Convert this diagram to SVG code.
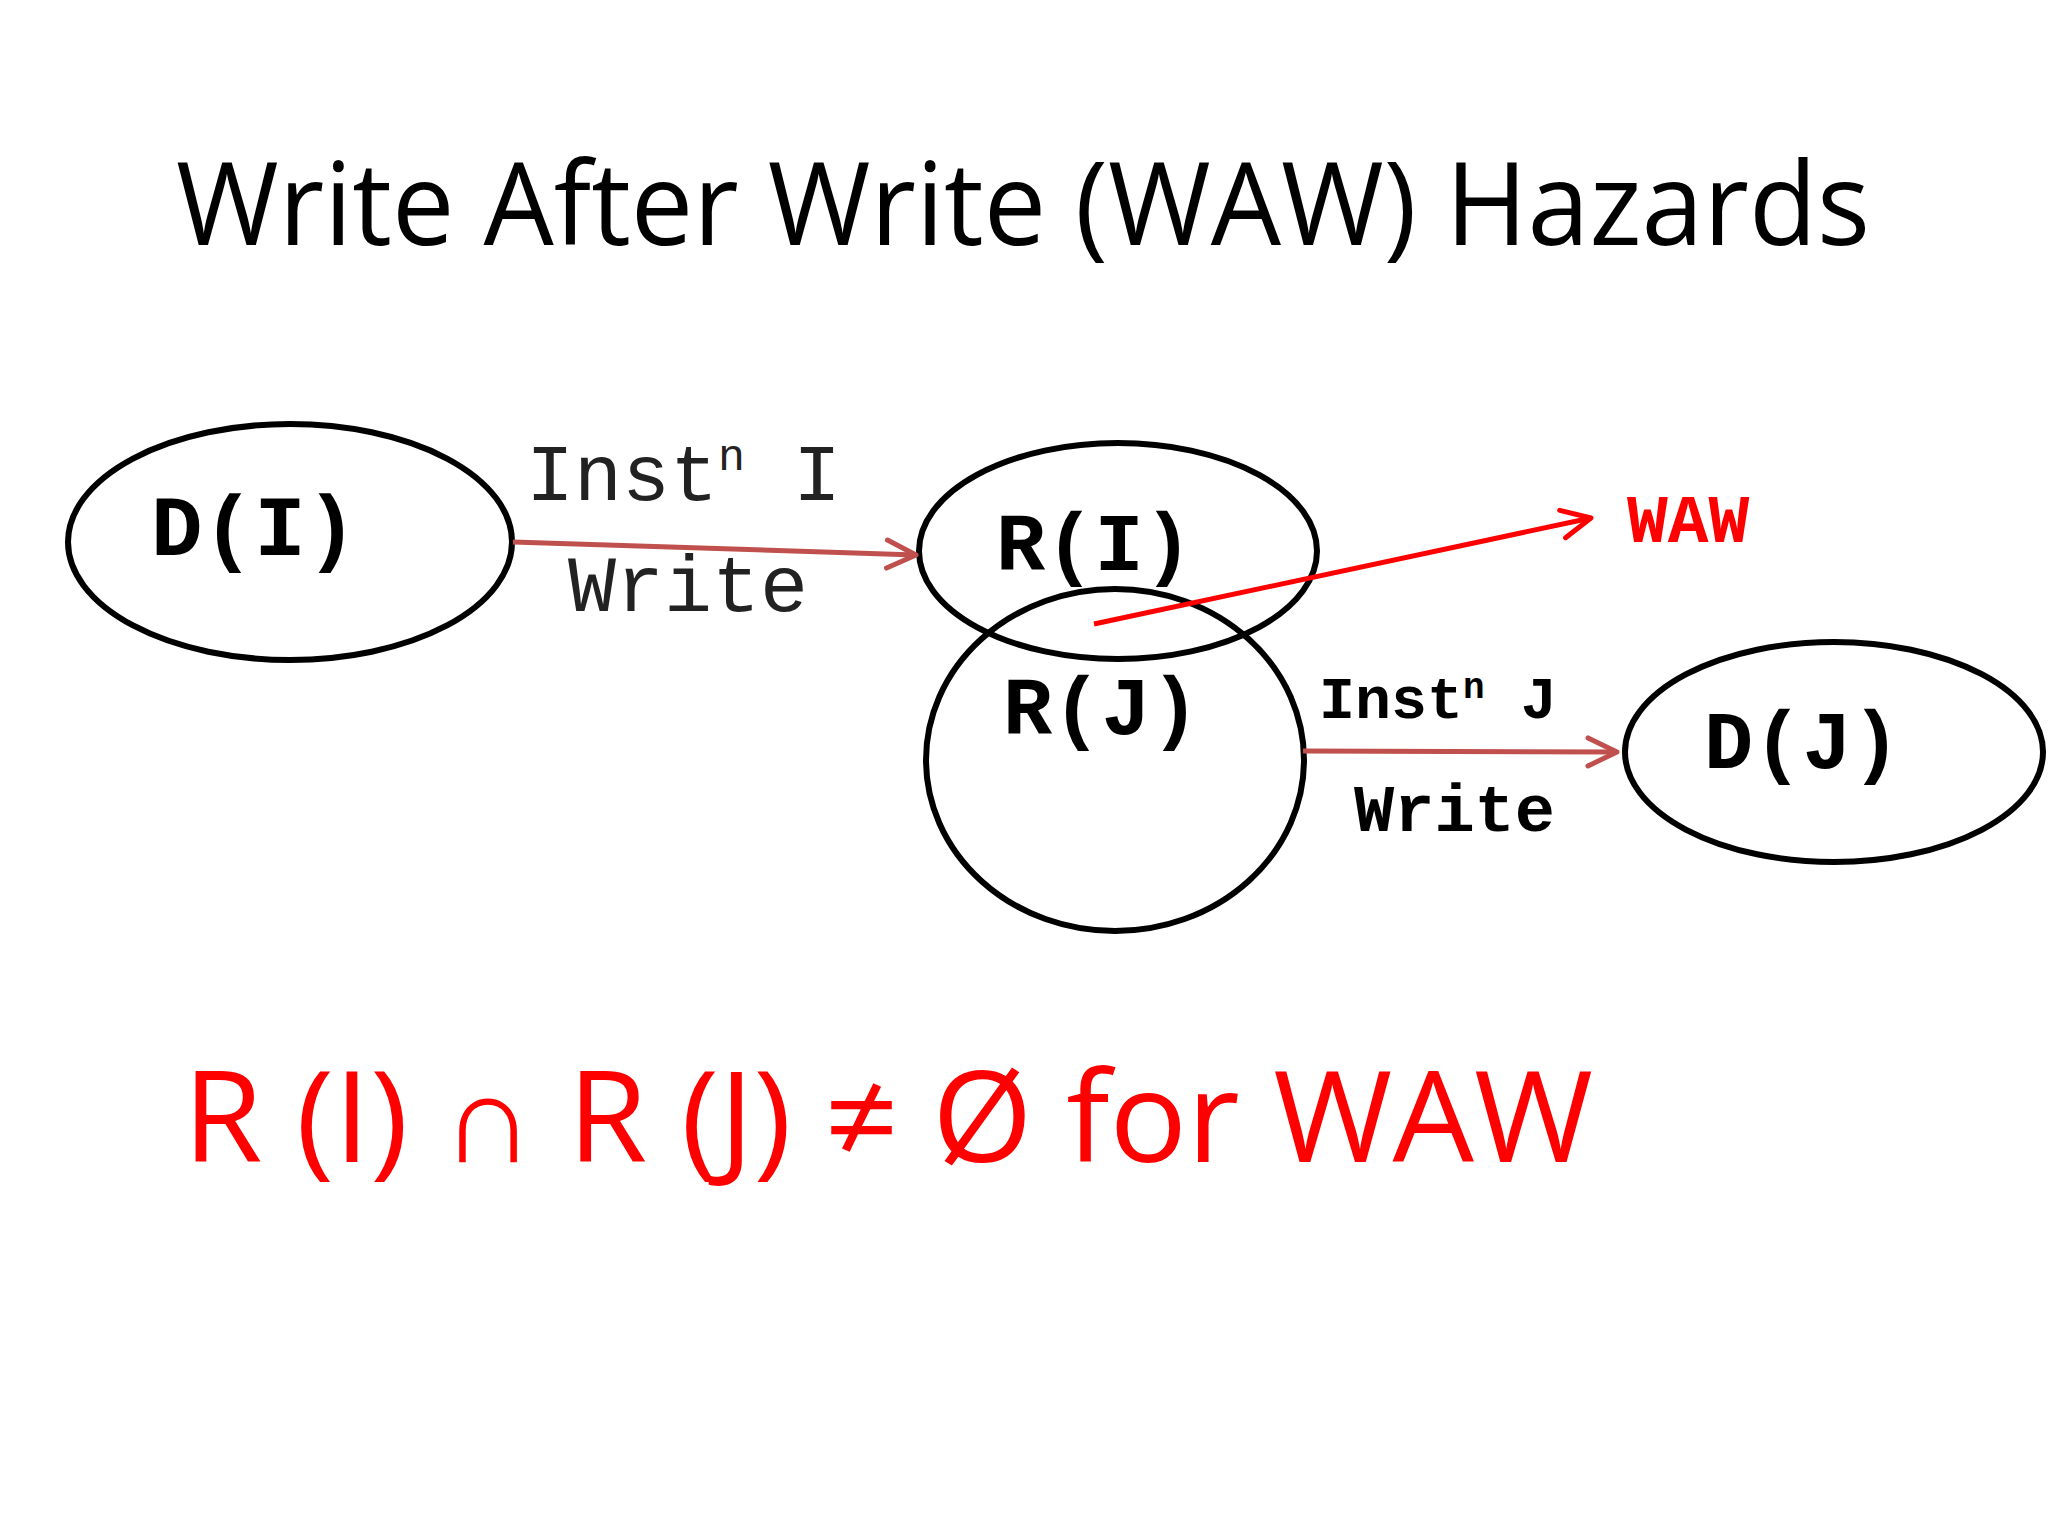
<svg xmlns="http://www.w3.org/2000/svg" width="2048" height="1536" viewBox="0 0 2048 1536">
<style>
.node{fill:none;stroke:#000;stroke-width:6}
.mono{font-family:"Liberation Mono","DejaVu Sans Mono",monospace}
.b{font-weight:bold}
.conn{stroke:#c0504d;stroke-width:5;fill:none}
</style>
<defs>
<marker id="ah" markerWidth="36" markerHeight="36" refX="33" refY="18" orient="auto" markerUnits="userSpaceOnUse" viewBox="0 0 36 36"><path d="M4,4 L33,18 L4,32" fill="none" stroke="#c0504d" stroke-width="5" stroke-linecap="round" stroke-linejoin="round"/></marker>
<marker id="ahr" markerWidth="36" markerHeight="36" refX="33" refY="18" orient="auto" markerUnits="userSpaceOnUse" viewBox="0 0 36 36"><path d="M4,4 L33,18 L4,32" fill="none" stroke="#f00" stroke-width="5" stroke-linecap="round" stroke-linejoin="round"/></marker>
</defs>
<rect width="2048" height="1536" fill="#fff"/>
<text x="176" y="245" font-family="'Open Sans','Liberation Sans',sans-serif" font-size="116" textLength="1694" lengthAdjust="spacingAndGlyphs">Write After Write (WAW) Hazards</text>
<g id="DI"><ellipse class="node" cx="290" cy="542" rx="222" ry="118"/><text class="mono b" x="151" y="555" font-size="86">D(I)</text></g>
<g id="RI"><ellipse class="node" cx="1118" cy="551" rx="199" ry="108"/><text class="mono b" x="996" y="570" font-size="82">R(I)</text></g>
<g id="RJ"><ellipse class="node" cx="1115" cy="760" rx="189" ry="171"/><text class="mono b" x="1003" y="734" font-size="82">R(J)</text></g>
<g id="DJ"><ellipse class="node" cx="1834" cy="752" rx="209" ry="110"/><text class="mono b" x="1704" y="768" font-size="82">D(J)</text></g>
<g id="connectors">
<line class="conn" x1="513" y1="542" x2="916" y2="555" marker-end="url(#ah)"/>
<line class="conn" x1="1303" y1="751" x2="1617" y2="752" marker-end="url(#ah)"/>
<line x1="1094" y1="624" x2="1591" y2="518" stroke="#f00" stroke-width="5" marker-end="url(#ahr)"/>
</g>
<text class="mono" x="526" y="500" font-size="80" fill="#222">Inst<tspan font-size="45" dy="-30">n</tspan><tspan dy="30"> I</tspan></text>
<text class="mono" x="568" y="611" font-size="80" fill="#222">Write</text>
<text class="mono b" x="1319" y="718" font-size="60">Inst<tspan font-size="36" dy="-20">n</tspan><tspan dy="20"> J</tspan></text>
<text class="mono b" x="1354" y="831" font-size="67">Write</text>
<text class="mono b" x="1627" y="542" font-size="68" fill="#f00">WAW</text>
<text x="183" y="1162" font-family="'Open Sans','Liberation Sans',sans-serif" font-size="126" fill="#f00" textLength="1410" lengthAdjust="spacingAndGlyphs">R (I) ∩ R (J) ≠ Ø  for WAW</text>
</svg>
